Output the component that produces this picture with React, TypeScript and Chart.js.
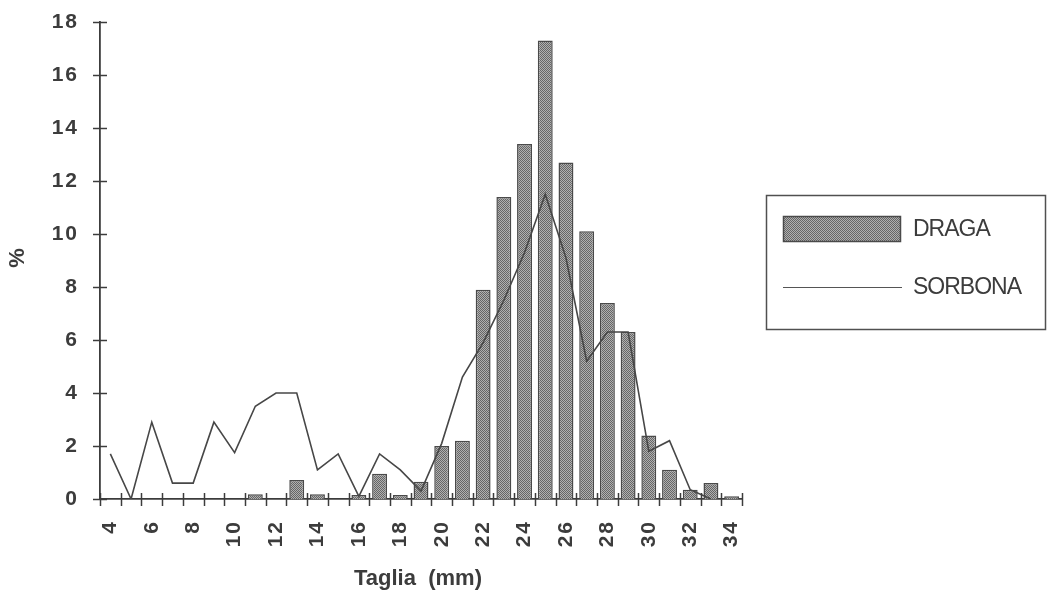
import React, { useEffect, useRef } from "react";
import { Chart, registerables } from "chart.js";

Chart.register(...registerables);

// Size classes (mm)
const sizes = ["4","5","6","7","8","9","10","11","12","13","14","15","16","17","18","19","20","21","22","23","24","25","26","27","28","29","30","31","32","33","34"];
// DRAGA (%) - bars
const dragaValues = [0,0,0,0,0,0,0,0.18,0,0.72,0.18,0,0.15,0.95,0.15,0.65,2.0,2.2,7.9,11.4,13.4,17.3,12.7,10.1,7.4,6.3,2.4,1.1,0.35,0.6,0.1];
// SORBONA (%) - line
const sorbonaValues = [1.7,0,2.9,0.6,0.6,2.9,1.75,3.5,4.0,4.0,1.1,1.7,0.1,1.7,1.1,0.3,2.1,4.6,5.9,7.5,9.3,11.5,9.1,5.2,6.3,6.3,1.8,2.2,0.35,0,null];
// tick labels
const xTickLabels = ["4","6","8","10","12","14","16","18","20","22","24","26","28","30","32","34"];
const yTickValues = [0,2,4,6,8,10,12,14,16,18];
const seriesNames = ["DRAGA", "SORBONA"];
const xTitle = "Taglia  (mm)";
const yTitle = "%";

const INK = "#3c3c3c";
const FONT = "'Liberation Sans', Arial, Helvetica, sans-serif";

function makePattern(): CanvasPattern | string {
  const c = document.createElement("canvas");
  c.width = 2;
  c.height = 2;
  const g = c.getContext("2d");
  if (!g) return "#959595";
  g.fillStyle = "#b0b0b0";
  g.fillRect(0, 0, 2, 2);
  g.fillStyle = "#666666";
  g.fillRect(0, 0, 1, 1);
  g.fillRect(1, 1, 1, 1);
  const p = g.createPattern(c, "repeat");
  return p || "#959595";
}

export default function App() {
  const ref = useRef<HTMLCanvasElement | null>(null);

  useEffect(() => {
    document.body.style.margin = "0";
    const canvas = ref.current;
    if (!canvas) return;
    const pattern = makePattern();

    const decor = {
      id: "decor",
      beforeDraw(chart: any) {
        const ctx = chart.ctx;
        ctx.save();
        ctx.fillStyle = "#ffffff";
        ctx.fillRect(0, 0, chart.width, chart.height);
        ctx.restore();
        try { (ctx as any).letterSpacing = "2px"; } catch (e) {}
      },
      beforeDatasetsDraw(chart: any) {
        try { (chart.ctx as any).letterSpacing = "0px"; } catch (e) {}
      },
      afterDraw(chart: any) {
        const ctx = chart.ctx;
        const xs = chart.scales.x;
        const ys = chart.scales.y;
        const area = chart.chartArea;
        ctx.save();
        try { (ctx as any).letterSpacing = "0px"; } catch (e) {}
        ctx.strokeStyle = INK;
        ctx.lineWidth = 1.5;
        // y ticks crossing the axis
        yTickValues.forEach((v) => {
          const y = Math.round(ys.getPixelForValue(v)) + 0.5;
          ctx.beginPath();
          ctx.moveTo(area.left - 7, y);
          ctx.lineTo(area.left + 7, y);
          ctx.stroke();
        });
        // x ticks at category boundaries
        const n = sizes.length;
        for (let i = 0; i <= n; i++) {
          let x;
          if (i === 0) x = area.left;
          else if (i === n) x = area.right;
          else x = (xs.getPixelForValue(i - 1) + xs.getPixelForValue(i)) / 2;
          x = Math.round(x) + 0.5;
          ctx.beginPath();
          ctx.moveTo(x, area.bottom - 6);
          ctx.lineTo(x, area.bottom + 7);
          ctx.stroke();
        }
        // axis titles
        ctx.fillStyle = INK;
        ctx.textAlign = "center";
        ctx.textBaseline = "middle";
        ctx.font = "bold 22px " + FONT;
        ctx.fillText(xTitle, (area.left + area.right) / 2 - 3, 579);
        ctx.save();
        ctx.translate(18, 258);
        ctx.rotate(-Math.PI / 2);
        ctx.font = "bold 22px " + FONT;
        ctx.fillText(yTitle, 0, 0);
        ctx.restore();
        // legend
        const bx = 766, by = 195, bw = 279, bh = 134;
        ctx.lineWidth = 1.5;
        ctx.strokeStyle = "#505050";
        ctx.strokeRect(bx + 0.5, by + 0.5, bw, bh);
        ctx.fillStyle = pattern as any;
        ctx.fillRect(bx + 17, by + 21, 117, 25);
        ctx.strokeStyle = "#4a4a4a";
        ctx.lineWidth = 1.5;
        ctx.strokeRect(bx + 17.5, by + 21.5, 117, 25);
        ctx.strokeStyle = "#555555";
        ctx.lineWidth = 1.2;
        ctx.beginPath();
        ctx.moveTo(bx + 17, by + 92.5);
        ctx.lineTo(bx + 136, by + 92.5);
        ctx.stroke();
        ctx.fillStyle = INK;
        ctx.font = "23px " + FONT;
        ctx.textBaseline = "middle";
        ctx.textAlign = "left";
        try { (ctx as any).letterSpacing = "-1px"; } catch (e) {}
        ctx.fillText(seriesNames[0], bx + 147, by + 35);
        ctx.fillText(seriesNames[1], bx + 147, by + 93);
        ctx.restore();
      },
    };

    const chart = new Chart(canvas, {
      type: "bar",
      data: {
        labels: sizes,
        datasets: [
          {
            type: "line",
            label: seriesNames[1],
            data: sorbonaValues as any,
            borderColor: "#474747",
            borderWidth: 1.6,
            pointRadius: 0,
            tension: 0,
            fill: false,
            spanGaps: false,
            order: 0,
          } as any,
          {
            type: "bar",
            label: seriesNames[0],
            data: dragaValues,
            backgroundColor: pattern as any,
            borderColor: "#4a4a4a",
            borderWidth: 1.5,
            barPercentage: 0.72,
            categoryPercentage: 1,
            order: 1,
          },
        ],
      },
      options: {
        responsive: false,
        animation: false,
        layout: { padding: { left: 0, right: 307, top: 22, bottom: 0 } },
        plugins: {
          legend: { display: false },
          tooltip: { enabled: false },
        },
        scales: {
          x: {
            offset: true,
            grid: { display: false, drawTicks: false },
            border: { display: true, color: INK, width: 1.8 },
            ticks: {
              autoSkip: false,
              minRotation: 90,
              maxRotation: 90,
              padding: 21,
              color: INK,
              font: { family: FONT, size: 21, weight: "bold" },
              callback: function (this: any, value: any) {
                const lbl = sizes[value as number];
                return xTickLabels.indexOf(lbl) >= 0 ? lbl : "";
              },
            },
            title: { display: false },
            afterFit(scale: any) {
              scale.height = 108;
              scale.paddingLeft = 0;
              scale.paddingRight = 0;
            },
          },
          y: {
            min: 0,
            max: 18,
            ticks: {
              stepSize: 2,
              padding: 21,
              color: INK,
              font: { family: FONT, size: 21, weight: "bold" },
            },
            grid: { display: false, drawTicks: false },
            border: { display: true, color: INK, width: 1.8 },
            title: { display: false },
            afterFit(scale: any) {
              scale.width = 100;
              scale.paddingTop = 0;
              scale.paddingBottom = 0;
            },
          },
        },
      },
      plugins: [decor],
    });

    return () => chart.destroy();
  }, []);

  return (
    <div style={{ width: 1049, height: 607 }}>
      <canvas ref={ref} width={1049} height={607} style={{ display: "block" }} />
    </div>
  );
}
